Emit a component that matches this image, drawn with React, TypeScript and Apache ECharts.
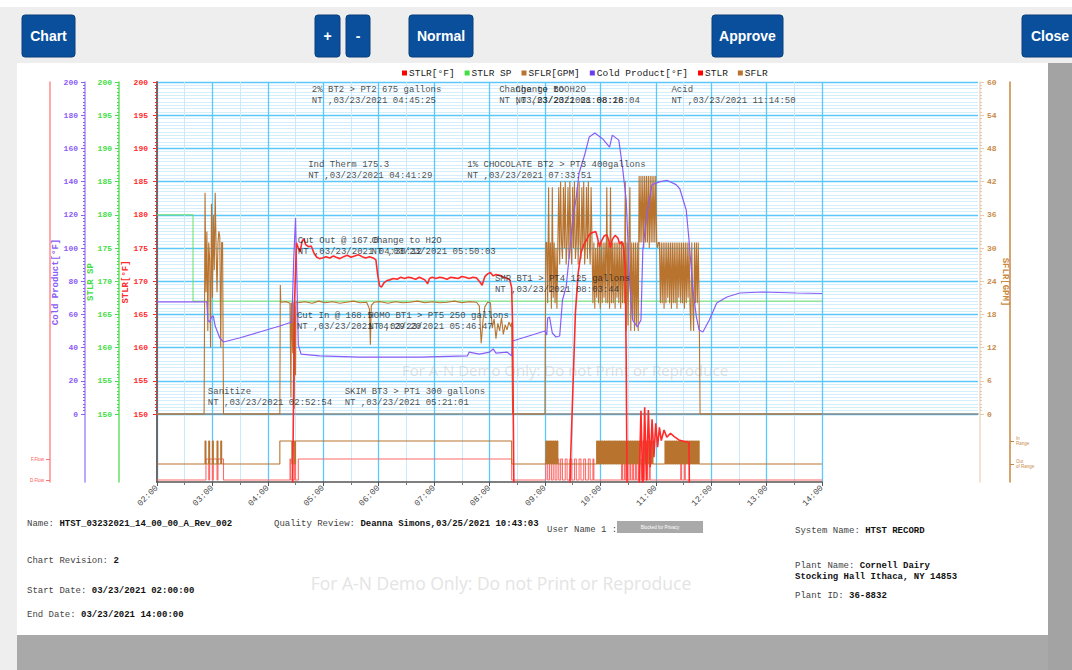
import React, { useEffect, useRef } from "react";
import * as echarts from "echarts";

// ---------------- DATA ----------------
const X_MIN = 2; // 02:00
const X_MAX = 14; // 14:00

// STLR setpoint [°F]
const STLR_SP: [string, number][] = [["02:00", 180], ["02:39", 167], ["14:00", 167]];

// STLR temperature [°F]
const STLR_TEMP: [string, number][] = [
  ["04:20", 120], ["04:26", 128], ["04:29", 167.2], ["04:31", 175.8], ["04:33", 175.0], ["04:35", 174.4],
  ["04:37", 176.0], ["04:39", 176.4], ["04:41", 175.5], ["04:44", 175.2], ["04:47", 175.3], ["04:50", 174.2],
  ["04:53", 173.6], ["04:56", 173.4], ["04:59", 173.5], ["05:03", 173.7], ["05:07", 173.5], ["05:11", 173.8],
  ["05:14", 173.6], ["05:18", 173.4], ["05:22", 173.7], ["05:26", 173.9], ["05:30", 173.6], ["05:34", 173.8],
  ["05:38", 174.0], ["05:42", 173.7], ["05:46", 173.5], ["05:50", 173.7], ["05:54", 173.5], ["05:57", 173.2],
  ["05:59", 170.9], ["06:01", 169.3], ["06:03", 169.1], ["06:06", 169.8], ["06:09", 170.1], ["06:12", 170.2],
  ["06:16", 170.4], ["06:20", 170.3], ["06:24", 170.6], ["06:28", 170.4], ["06:32", 170.6], ["06:36", 170.5],
  ["06:40", 170.3], ["06:44", 170.6], ["06:47", 170.4], ["06:50", 170.2], ["06:53", 169.6], ["06:55", 170.4],
  ["06:58", 170.6], ["07:02", 170.4], ["07:06", 170.6], ["07:10", 170.5], ["07:14", 170.3], ["07:18", 170.6],
  ["07:22", 170.5], ["07:26", 170.4], ["07:30", 170.7], ["07:34", 170.6], ["07:38", 170.4], ["07:42", 170.6],
  ["07:46", 170.5], ["07:50", 169.8], ["07:52", 169.4], ["07:55", 170.7], ["07:58", 171.1], ["08:01", 171.3],
  ["08:04", 170.8], ["08:07", 171.0], ["08:11", 170.9], ["08:15", 170.6], ["08:18", 170.5], ["08:22", 170.2],
  ["08:24", 169.0], ["08:25", 163.4], ["08:27", 128],
  ["09:25", 128], ["09:28", 144], ["09:33", 165.2], ["09:36", 171.2], ["09:39", 174.2], ["09:42", 175.5],
  ["09:45", 176.2], ["09:48", 177.0], ["09:51", 177.3], ["09:55", 177.5], ["09:57", 176.5], ["09:59", 175.2],
  ["10:01", 176.0], ["10:04", 176.8], ["10:07", 177.0], ["10:09", 176.2], ["10:11", 175.0], ["10:13", 176.3],
  ["10:16", 176.9], ["10:19", 176.5], ["10:21", 175.6], ["10:23", 176.0], ["10:25", 175.2], ["10:27", 172.0],
  ["10:28", 158], ["10:29", 138], ["10:40", 128], ["10:44", 150.5], ["10:46", 138], ["10:48", 151],
  ["10:50", 140], ["10:52", 150.6], ["10:54", 142], ["10:56", 149.2], ["10:58", 143.5], ["11:00", 148.6],
  ["11:02", 145], ["11:04", 148], ["11:06", 146], ["11:09", 147.6], ["11:12", 146.5], ["11:16", 147.1],
  ["11:20", 146.6], ["11:25", 146.1], ["11:30", 145.9], ["11:36", 145.7], ["11:37", 128],
];

// Cold product [°F]
const COLD_PRODUCT: [string, number][] = [
  ["02:00", 67.5], ["02:54", 67.5], ["02:55", 56.6], ["02:57", 55.4], ["02:59", 58.4], ["03:01", 59],
  ["03:03", 53], ["03:08", 45.8], ["03:12", 43.4], ["03:29", 45.8], ["03:51", 49.4], ["04:13", 53],
  ["04:26", 55.4], ["04:28", 92.8], ["04:30", 118], ["04:31:30", 80.7], ["04:33", 41.6], ["04:36", 36.1],
  ["04:56", 35], ["05:39", 34.3], ["06:44", 34.3], ["07:36", 35], ["07:38", 37.3], ["07:49", 36.1],
  ["08:00", 37.3], ["08:04", 39.2], ["08:07", 36.7], ["08:19", 37.3], ["08:24", 35], ["08:25", 44],
  ["09:00", 50], ["09:02", 47.6], ["09:03", 57.8], ["09:05", 58.4], ["09:08", 48.8], ["09:12", 46.4],
  ["09:16", 47], ["09:19", 68.7], ["09:23", 76.5], ["09:27", 98.8], ["09:30", 116.9], ["09:34", 130.7],
  ["09:37", 145.2], ["09:43", 156], ["09:48", 166.9], ["09:54", 169.3], ["10:03", 165.5], ["10:10", 160.8],
  ["10:13", 168], ["10:20", 165], ["10:24", 148.8], ["10:28", 128.9], ["10:32", 76.5], ["10:35", 56.6],
  ["10:40", 52.4], ["10:44", 56.6], ["10:46", 98.8], ["10:50", 118.7], ["10:53", 128.9], ["10:56", 138.2],
  ["11:04", 139.8], ["11:12", 140.8], ["11:22", 138.2], ["11:26", 135.7], ["11:33", 122.9], ["11:36", 104.8],
  ["11:40", 76.5], ["11:44", 58.4], ["11:47", 50.6], ["11:51", 49.4], ["11:58", 56.6], ["12:06", 66.9],
  ["12:17", 70.5], ["12:31", 72.9], ["12:56", 73.5], ["13:32", 72.9], ["14:00", 72.6],
];

// SFLR flow [GPM] - sparse readings
const SFLR_FLOW: [string, number][] = [
  ["02:00", 0], ["02:50", 0],
  ["02:51", 0], ["02:52", 40], ["02:53", 22], ["02:54", 33], ["02:55", 15], ["02:56", 31], ["02:57", 28],
  ["02:58", 12], ["02:59", 38], ["03:00", 21], ["03:01", 36], ["03:02", 26], ["03:03", 40], ["03:04", 30],
  ["03:05", 22], ["03:06", 31], ["03:07", 33], ["03:08", 32], ["03:09", 12], ["03:10", 31], ["03:11", 31],
  ["03:12", 0], ["04:13", 0], ["04:13:30", 23.3], ["04:14", 20.2], ["04:20", 20.3], ["04:24", 20.0],
  ["04:25", 3], ["04:25:30", 20.1], ["04:27", 11], ["04:27:30", 20.2], ["04:28:30", 1], ["04:29", 19.5],
  ["04:30", 7], ["04:30:30", 20.3], ["04:33", 20.1], ["04:40", 20.3], ["04:48", 20.0], ["04:55", 20.4],
  ["05:02", 20.1], ["05:10", 20.3], ["05:18", 20.0], ["05:25", 20.2], ["05:33", 20.4], ["05:40", 20.1],
  ["05:47", 20.2], ["05:50", 19.0], ["05:51", 12.5], ["05:52", 19.6], ["05:55", 20.2], ["06:02", 20.3],
  ["06:10", 20.0], ["06:18", 20.3], ["06:26", 20.1], ["06:34", 20.2], ["06:42", 20.4], ["06:50", 20.1],
  ["06:58", 20.3], ["07:06", 20.1], ["07:14", 20.2], ["07:22", 20.4], ["07:30", 20.1], ["07:38", 20.3],
  ["07:46", 20.2], ["07:49", 19.5], ["07:51", 12.8], ["07:53", 17], ["07:55", 19.4], ["07:58", 20.2],
  ["08:01", 20.1], ["08:03", 15.5], ["08:05", 17.2], ["08:07", 13.6], ["08:09", 16.4], ["08:11", 15.0],
  ["08:13", 17.4], ["08:15", 14.4], ["08:17", 16.1], ["08:19", 15.2], ["08:21", 16.6], ["08:23", 15.8],
  ["08:24", 16.5], ["08:25", 0], ["08:59", 0],
];
// SFLR flow [GPM] - one reading per minute from 09:00 to 11:48
const SFLR_BURST_START = "09:00";
const SFLR_BURST: number[] = [
  0, 31, 31, 20, 41, 22, 31, 19, 41, 21, 31, 20, 30, 19, 31,
  41, 27, 42, 31, 28, 41, 30, 42, 27, 31, 41, 28, 42, 31, 27, 41, 30, 42, 28, 31, 41, 27, 42, 31, 28,
  41, 30, 42, 27, 31, 41, 28, 42, 31, 27, 41,
  31, 20, 31, 19, 30, 21, 31, 20, 31, 19, 31, 20, 31, 21, 31, 20, 41, 20, 31, 19, 41, 20, 31, 20, 31,
  19, 31, 21, 31, 20, 31, 19, 31, 20, 31, 20,
  42, 15, 31, 16, 31, 41, 15, 31, 17, 31, 15, 31, 16, 31, 15,
  43, 31, 43, 31, 43, 30, 43, 31, 43, 31, 43, 30, 43, 31, 43, 31, 43, 31, 43,
  31, 30, 31,
  31, 20, 31, 20, 31, 19, 31, 20, 31, 21, 31, 20, 31, 19, 31, 20, 31, 20, 31, 19, 31, 21, 31, 20, 31,
  20, 31, 19, 31, 20, 31, 21, 31, 20, 15, 31, 20, 15, 31, 20, 31, 20, 31, 20,
  0,
];
const SFLR_TAIL: [string, number][] = [["14:00", 0]];

// STLR divert valve state: 1 = F.Flow, 0 = D.Flow
const STLR_STATE: [string, number][] = [
  ["02:00", 0], ["02:53", 1], ["02:56", 0], ["02:57", 1], ["03:00", 0], ["03:01", 1], ["03:05", 0],
  ["03:06", 1], ["03:12", 0], ["04:24", 1], ["04:25", 0], ["04:29", 1], ["04:30", 0], ["04:33", 1],
  ["08:24", 0], ["09:01", 1], ["09:03", 0], ["09:05", 1], ["09:07", 0], ["09:09", 1], ["09:11", 0],
  ["09:13", 1], ["09:15", 0], ["09:17", 1], ["09:19", 0], ["09:22", 1], ["09:24", 0], ["09:27", 1],
  ["09:29", 0], ["09:32", 1], ["09:34", 0], ["09:37", 1], ["09:39", 0], ["09:42", 1], ["09:44", 0],
  ["09:47", 1], ["09:49", 0], ["09:52", 1], ["09:53", 0], ["10:23", 1], ["10:24", 0], ["10:26", 1],
  ["10:27", 0], ["10:29", 1], ["10:30", 0], ["10:32", 1], ["10:33", 0], ["10:35", 1], ["10:36", 0],
  ["10:38", 1], ["10:39", 0], ["10:41", 1], ["10:42", 0], ["10:44", 1], ["10:45", 0], ["10:47", 1],
  ["10:48", 0], ["10:50", 1], ["10:51", 0], ["10:53", 1], ["10:54", 0], ["11:27", 1], ["11:28", 0],
  ["11:31", 1], ["11:32", 0], ["14:00", 0],
];

// SFLR range state: 1 = In Range, 0 = Out of Range
const SFLR_STATE: [string, number][] = [
  ["02:00", 0], ["02:52", 1], ["02:53", 0], ["02:56", 1], ["02:57", 0], ["03:00", 1], ["03:01", 0],
  ["03:05", 1], ["03:06", 0], ["03:09", 1], ["03:10", 0], ["04:13", 1], ["04:26", 0], ["04:27", 1],
  ["04:29", 0], ["04:30", 1], ["08:24", 0],
  ["09:01", 1], ["09:02", 0], ["09:03", 1], ["09:04", 0], ["09:05", 1], ["09:06", 0], ["09:07", 1],
  ["09:08", 0], ["09:09", 1], ["09:10", 0], ["09:11", 1], ["09:12", 0], ["09:13", 1], ["09:14", 0],
  ["09:56", 1], ["09:57", 0], ["09:58", 1], ["09:59", 0], ["10:00", 1], ["10:01", 0], ["10:02", 1],
  ["10:03", 0], ["10:04", 1], ["10:05", 0], ["10:06", 1], ["10:07", 0], ["10:08", 1], ["10:09", 0],
  ["10:10", 1], ["10:11", 0], ["10:12", 1], ["10:13", 0], ["10:14", 1], ["10:15", 0], ["10:16", 1],
  ["10:17", 0], ["10:18", 1], ["10:19", 0], ["10:20", 1], ["10:21", 0], ["10:22", 1], ["10:23", 0],
  ["10:24", 1], ["10:25", 0], ["10:26", 1], ["10:27", 0], ["10:28", 1], ["10:29", 0], ["10:30", 1],
  ["10:31", 0], ["10:32", 1], ["10:33", 0], ["10:34", 1], ["10:35", 0], ["10:36", 1], ["10:37", 0],
  ["10:38", 1], ["10:39", 0], ["10:40", 1], ["10:41", 0], ["10:42", 1], ["10:43", 0],
  ["10:46", 1], ["10:47", 0], ["10:48", 1], ["10:49", 0], ["10:50", 1], ["10:51", 0], ["10:52", 1],
  ["10:53", 0], ["10:54", 1], ["10:55", 0], ["10:56", 1], ["10:57", 0],
  ["11:10", 1], ["11:11", 0], ["11:12", 1], ["11:13", 0], ["11:14", 1], ["11:15", 0], ["11:16", 1],
  ["11:17", 0], ["11:18", 1], ["11:19", 0], ["11:20", 1], ["11:21", 0], ["11:22", 1], ["11:23", 0],
  ["11:24", 1], ["11:25", 0], ["11:26", 1], ["11:27", 0], ["11:28", 1], ["11:29", 0], ["11:30", 1],
  ["11:31", 0], ["11:32", 1], ["11:33", 0], ["11:34", 1], ["11:35", 0], ["11:36", 1], ["11:37", 0],
  ["11:38", 1], ["11:39", 0], ["11:40", 1], ["11:41", 0], ["11:42", 1], ["11:43", 0], ["11:44", 1],
  ["11:45", 0], ["11:46", 1], ["11:47", 0], ["14:00", 0],
];

// Event notes: time, lane (row), title, stamp
const EVENT_TIMES = [
  "04:45:25", "08:08:18", "08:26:04", "11:14:50", "04:41:29", "07:33:51", "04:30:12",
  "05:50:03", "08:03:44", "04:29:20", "05:46:47", "02:52:54", "05:21:01",
];
const EVENT_LANES = [0, 0, 0, 0, 2, 2, 4, 4, 5, 6, 6, 8, 8];
const EVENT_TITLES = [
  "2% BT2 > PT2 675 gallons", "Change to BOO", "Change to H2O", "Acid", "Ind Therm 175.3",
  "1% CHOCOLATE BT2 > PT3 400gallons", "Cut Out @ 167.0", "Change to H2O", "SMR BT1 > PT4 125 gallons",
  "Cut In @ 168.5", "HOMO BT1 > PT5 250 gallons", "Sanitize", "SKIM BT3 > PT1 300 gallons",
];
const EVENT_DATE = "03/23/2021";

const LEGEND_NAMES = ["STLR[°F]", "STLR SP", "SFLR[GPM]", "Cold Product[°F]", "STLR", "SFLR"];
const STLR_STATE_LABELS = ["D.Flow", "F.Flow"];
const SFLR_STATE_LABELS = ["Out\nof Range", "In\nRange"];

const INFO_LEFT = [
  ["Name: ", "HTST_03232021_14_00_00_A_Rev_002"],
  ["Chart Revision: ", "2"],
  ["Start Date: ", "03/23/2021 02:00:00"],
  ["End Date: ", "03/23/2021 14:00:00"],
];
const QUALITY = ["Quality Review: ", "Deanna Simons,03/25/2021 10:43:03"];
const SYSTEM = ["System Name: ", "HTST RECORD"];
const PLANT = ["Plant Name: ", "Cornell Dairy", "Stocking Hall Ithaca, NY 14853"];
const PLANT_ID = ["Plant ID: ", "36-8832"];
const WATERMARK = "For A-N Demo Only: Do not Print or Reproduce";
const BUTTONS = ["Chart", "+", "-", "Normal", "Approve", "Close"];

// ---------------- helpers / styles ----------------
const MONO = "'Liberation Mono', 'DejaVu Sans Mono', monospace";
const toH = (t: string) => {
  const p = t.split(":").map(Number);
  return p[0] + (p[1] || 0) / 60 + (p[2] || 0) / 3600;
};
const pts = (a: [string, number][]) => a.map(([t, v]) => [toH(t), v]);

const RED = "#ff2a2a";
const GREEN = "#44dd44";
const PURPLE = "#8b5cf6";
const BROWN = "#b8732f";
const BROWN_LBL = "#c98b47";
const BLUE = "#5ac8fa";
const BLUE_MINOR = "#d3eefd";

const labelAxis = (gridIndex: number, min: number, max: number, interval: number, position: string, offset: number, color: string) => ({
  type: "value", gridIndex, min, max, interval, position, offset,
  axisLine: { show: false },
  axisTick: { show: true, length: 4, lineStyle: { color, width: 1 } },
  minorTick: { show: true, splitNumber: 10, length: 2, lineStyle: { color, width: 1 } },
  axisLabel: { color, fontSize: 8, fontFamily: MONO, fontWeight: "bold", margin: 7 },
  splitLine: { show: false },
});
const lineAxis = (position: string, offset: number, color: string, width = 1.5, name = "", nameGap = 0, nameColor = color, rotate?: number) => ({
  type: "value", gridIndex: 1, min: 0, max: 1, position, offset,
  axisLine: { show: true, lineStyle: { color, width } },
  axisTick: { show: false }, axisLabel: { show: false }, splitLine: { show: false },
  name, nameLocation: "middle", nameGap, nameRotate: rotate,
  nameTextStyle: { color: nameColor, fontFamily: MONO, fontSize: 9, fontWeight: "bold" },
});
const hidden = (gridIndex: number, min: number, max: number, inverse = false) => ({
  type: "value", gridIndex, min, max, inverse, show: false,
});

export default function App() {
  const ref = useRef<HTMLDivElement>(null);
  useEffect(() => {
    if (!ref.current) return;
    const chart = echarts.init(ref.current, undefined, { renderer: "svg" });

    const burstStart = toH(SFLR_BURST_START);
    const sflr = [
      ...pts(SFLR_FLOW),
      ...SFLR_BURST.map((v, i) => [burstStart + i / 60, v]),
      ...pts(SFLR_TAIL),
    ];
    const events = EVENT_TIMES.map((t, i) => ({
      value: [toH(t), EVENT_LANES[i]],
      label: { formatter: `${EVENT_TITLES[i]}\nNT ,${EVENT_DATE} ${t}` },
    }));

    const infoRich = {
      l: { fontFamily: MONO, fontSize: 9, fill: "#444" },
      b: { fontFamily: MONO, fontSize: 9, fill: "#111", fontWeight: "bold" },
    };
    const info = (x: number, y: number, label: string, value: string) => ({
      type: "text", x, y, z: 100,
      style: { text: `{l|${label}}{b|${value}}`, rich: infoRich, verticalAlign: "middle", align: "left" },
    });
    const btnLayout = [
      [22, 53], [315, 25], [346, 24], [409, 64], [712, 71], [1022, 56],
    ];
    const buttons = BUTTONS.map((b, i) => ({
      type: "group", z: 100,
      children: [
        { type: "rect", z: 100, shape: { x: btnLayout[i][0], y: 15, width: btnLayout[i][1], height: 42, r: 3 }, style: { fill: "#0a4f9c", stroke: "#083f7d", lineWidth: 1 } },
        { type: "text", z: 101, x: btnLayout[i][0] + btnLayout[i][1] / 2, y: 36, style: { text: b, fill: "#fff", font: "bold 14px 'Liberation Sans', Arial, sans-serif", align: "center", verticalAlign: "middle" } },
      ],
    }));

    const graphic: any[] = [
      { type: "rect", z: -10, shape: { x: 0, y: 0, width: 1072, height: 7 }, style: { fill: "#ffffff" } },
      { type: "rect", z: -10, shape: { x: 17, y: 63, width: 1031, height: 572 }, style: { fill: "#ffffff" } },
      { type: "rect", z: -10, shape: { x: 1048, y: 63, width: 24, height: 607 }, style: { fill: "#a3a3a3" } },
      { type: "rect", z: -10, shape: { x: 17, y: 635, width: 1031, height: 35 }, style: { fill: "#a9a9a9" } },
      ...buttons,
      { type: "text", z: 1, x: 565, y: 370, style: { text: WATERMARK, fill: "rgba(190,190,190,0.45)", font: "15px 'Open Sans', 'Noto Sans', sans-serif", align: "center", verticalAlign: "middle" } },
      { type: "text", z: 100, x: 501, y: 583, style: { text: WATERMARK, fill: "#e4e4e4", font: "17.5px 'Open Sans', 'Noto Sans', sans-serif", align: "center", verticalAlign: "middle" } },
      info(27, 524, INFO_LEFT[0][0], INFO_LEFT[0][1]),
      info(27, 561, INFO_LEFT[1][0], INFO_LEFT[1][1]),
      info(27, 591, INFO_LEFT[2][0], INFO_LEFT[2][1]),
      info(27, 615, INFO_LEFT[3][0], INFO_LEFT[3][1]),
      info(274, 524, QUALITY[0], QUALITY[1]),
      { type: "text", z: 100, x: 547, y: 530, style: { text: "User Name 1 :", fill: "#444", font: `9px ${MONO}`, verticalAlign: "middle" } },
      { type: "rect", z: 100, shape: { x: 617, y: 521, width: 86, height: 12 }, style: { fill: "#a9a9a9" } },
      { type: "text", z: 101, x: 660, y: 527, style: { text: "Blocked for Privacy", fill: "#ffffff", font: "4.5px sans-serif", align: "center", verticalAlign: "middle" } },
      info(795, 531, SYSTEM[0], SYSTEM[1]),
      info(795, 566, PLANT[0], PLANT[1]),
      { type: "text", z: 100, x: 795, y: 577, style: { text: PLANT[2], fill: "#111", font: `bold 9px ${MONO}`, verticalAlign: "middle" } },
      info(795, 596, PLANT_ID[0], PLANT_ID[1]),
    ];

    const option: any = {
      animation: false,
      backgroundColor: "#eeeeee",
      legend: {
        data: LEGEND_NAMES, left: 397, top: 63, icon: "rect", itemWidth: 5, itemHeight: 5, itemGap: 10,
        selectedMode: false, textStyle: { fontFamily: MONO, fontSize: 9.5, color: "#222", padding: [0, 0, 0, -3] },
      },
      grid: [
        { left: 157, top: 82, width: 821, height: 332, containLabel: false, outerBoundsMode: "none" },
        { left: 157, top: 82, width: 665, height: 400, containLabel: false, outerBoundsMode: "none" },
        { left: 157, top: 459, width: 665, height: 21, containLabel: false, outerBoundsMode: "none" },
        { left: 157, top: 441, width: 665, height: 23, containLabel: false, outerBoundsMode: "none" },
      ],
      xAxis: [
        { type: "value", gridIndex: 0, min: 0, max: 1, position: "top", axisLine: { show: true, lineStyle: { color: "#888", width: 1.5 } }, axisTick: { show: false }, axisLabel: { show: false }, splitLine: { show: false } },
        {
          type: "value", gridIndex: 1, min: X_MIN, max: X_MAX, interval: 1, position: "bottom",
          axisLine: { show: true, lineStyle: { color: "#555", width: 1.5 } },
          axisTick: { show: true, length: 4, lineStyle: { color: "#555" } },
          minorTick: { show: true, splitNumber: 2, length: 3, lineStyle: { color: "#777" } },
          axisLabel: { rotate: 45, fontSize: 8.5, fontFamily: MONO, color: "#444", margin: 5, formatter: (v: number) => `${String(v).padStart(2, "0")}:00` },
          splitLine: { show: true, lineStyle: { color: BLUE, width: 1.3 } },
          minorSplitLine: { show: true, lineStyle: { color: "#c8eafc", width: 1 } },
        },
        { type: "value", gridIndex: 2, min: X_MIN, max: X_MAX, show: false },
        { type: "value", gridIndex: 3, min: X_MIN, max: X_MAX, show: false },
      ],
      yAxis: [
        { ...labelAxis(0, 150, 200, 5, "left", 2, RED), splitLine: { show: true, lineStyle: { color: BLUE, width: 1.4 } }, minorSplitLine: { show: true, lineStyle: { color: BLUE_MINOR, width: 1 } } },
        labelAxis(0, 150, 200, 5, "left", 38, GREEN),
        labelAxis(0, 0, 200, 20, "left", 72, PURPLE),
        { ...labelAxis(0, 0, 60, 6, "right", 2, BROWN_LBL), axisTick: { show: true, length: 4, lineStyle: { color: "#e2c9ad" } }, minorTick: { show: true, splitNumber: 10, length: 2, lineStyle: { color: "#e2c9ad" } } },
        lineAxis("left", 0, "#6a6a6a", 2, "STLR[°F]", 27, RED),
        hidden(1, 139.76, 200),
        hidden(1, -40.96, 200),
        hidden(1, -12.29, 60),
        lineAxis("left", 38, "#66e066", 1.5, "STLR SP", 24, GREEN),
        lineAxis("left", 72, "#a78bfa", 1.5, "Cold Product[°F]", 25, PURPLE),
        lineAxis("left", 107, "#ff8c8c", 1.5),
        lineAxis("right", 158, "#ecd9c4", 1.5, "SFLR[GPM]", 20, BROWN_LBL, -90),
        lineAxis("right", 188, "#c98640", 1.5),
        {
          type: "value", gridIndex: 2, min: 0, max: 1, interval: 1, position: "left", offset: 107,
          axisLine: { show: false }, splitLine: { show: false },
          axisTick: { show: true, length: 4, lineStyle: { color: "#ff7070" } },
          axisLabel: { color: "#ff5050", fontSize: 4.5, fontFamily: "sans-serif", margin: 6, formatter: (v: number) => STLR_STATE_LABELS[v] },
        },
        {
          type: "value", gridIndex: 3, min: 0, max: 1, interval: 1, position: "right", offset: 188,
          axisLine: { show: false }, splitLine: { show: false },
          axisTick: { show: true, length: 4, lineStyle: { color: "#c98640" } },
          axisLabel: { color: BROWN_LBL, fontSize: 4.5, lineHeight: 5, fontFamily: "sans-serif", margin: 6, formatter: (v: number) => SFLR_STATE_LABELS[v] },
        },
        hidden(1, -13.5 / 37.7, (400 - 13.5) / 37.7, true),
      ],
      series: [
        { name: "STLR SP", type: "line", xAxisIndex: 1, yAxisIndex: 5, step: "end", data: pts(STLR_SP), symbol: "none", lineStyle: { color: "#66e066", width: 1 }, itemStyle: { color: GREEN }, z: 2 },
        { name: "SFLR[GPM]", type: "line", xAxisIndex: 1, yAxisIndex: 7, data: sflr, symbol: "none", lineStyle: { color: BROWN, width: 1.1 }, itemStyle: { color: BROWN }, z: 3 },
        { name: "Cold Product[°F]", type: "line", xAxisIndex: 1, yAxisIndex: 6, data: pts(COLD_PRODUCT), symbol: "none", lineStyle: { color: PURPLE, width: 1.2 }, itemStyle: { color: "#6a3df0" }, z: 4 },
        { name: "STLR[°F]", type: "line", xAxisIndex: 1, yAxisIndex: 5, data: pts(STLR_TEMP), symbol: "none", lineStyle: { color: RED, width: 1.6 }, itemStyle: { color: "#ff0000" }, z: 5 },
        { name: "STLR", type: "line", xAxisIndex: 2, yAxisIndex: 13, step: "end", clip: false, data: pts(STLR_STATE), symbol: "none", lineStyle: { color: "#ff6b6b", width: 1.1 }, itemStyle: { color: "#ff0000" }, z: 3 },
        { name: "SFLR", type: "line", xAxisIndex: 3, yAxisIndex: 14, step: "end", clip: false, data: pts(SFLR_STATE), symbol: "none", lineStyle: { color: BROWN, width: 1.1 }, itemStyle: { color: BROWN }, z: 3 },
        {
          name: "Events", type: "scatter", xAxisIndex: 1, yAxisIndex: 15, data: events, symbolSize: 1,
          itemStyle: { color: "rgba(0,0,0,0)" }, z: 6, silent: true,
          label: { show: true, position: "right", distance: 1.5, fontFamily: MONO, fontSize: 9, lineHeight: 11, color: "#222", align: "left" },
        },
      ],
      graphic,
    };
    chart.setOption(option);
    return () => chart.dispose();
  }, []);
  return <div ref={ref} style={{ position: "fixed", left: 0, top: 0, width: 1072, height: 670 }} />;
}
